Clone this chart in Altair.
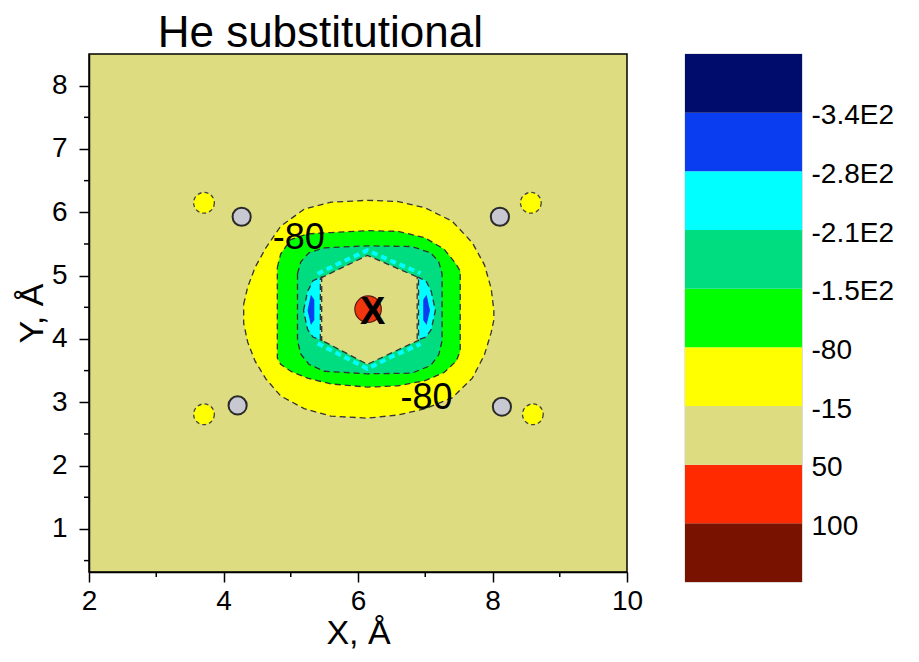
import json
import altair as alt
import pandas as pd

FONT = "Liberation Sans"

# ---------------- axes ----------------
x_domain = [2, 10]
y_domain = [0.32, 8.5]
x_major = [2, 4, 6, 8, 10]
x_minor = [3, 5, 7, 9]
y_major = [1, 2, 3, 4, 5, 6, 7, 8]
y_minor = [0.5, 1.5, 2.5, 3.5, 4.5, 5.5, 6.5, 7.5]

# ---------------- contour regions (x, upper edge, lower edge) ----------------
yellow_x = [4.30, 4.36, 4.47, 4.63, 4.85, 5.20, 5.60, 6.14, 6.60, 7.00, 7.40, 7.70, 7.88, 7.98, 8.02]
yellow_top = [4.55, 4.82, 5.13, 5.44, 5.78, 6.05, 6.16, 6.19, 6.17, 6.07, 5.86, 5.52, 5.17, 4.80, 4.45]
yellow_bot = [4.25, 3.95, 3.65, 3.37, 3.10, 2.90, 2.78, 2.75, 2.80, 2.90, 3.07, 3.38, 3.75, 4.10, 4.30]

green_x = [4.80, 4.85, 5.00, 5.25, 5.60, 6.14, 6.59, 6.99, 7.28, 7.46, 7.52]
green_top = [5.13, 5.34, 5.57, 5.66, 5.68, 5.71, 5.70, 5.60, 5.42, 5.18, 5.07]
green_bot = [3.70, 3.60, 3.49, 3.38, 3.29, 3.24, 3.26, 3.34, 3.47, 3.65, 3.81]

teal_x = [5.10, 5.15, 5.27, 5.50, 6.14, 6.80, 7.08, 7.20, 7.25]
teal_top = [5.03, 5.22, 5.36, 5.44, 5.47, 5.46, 5.36, 5.22, 5.03]
teal_bot = [3.97, 3.76, 3.60, 3.49, 3.45, 3.46, 3.58, 3.75, 3.97]

cyanL_x = [5.19, 5.25, 5.33, 5.46]
cyanL_top = [4.45, 4.75, 4.92, 4.98]
cyanL_bot = [4.45, 4.15, 4.03, 3.98]
cyanR_x = [6.88, 7.01, 7.09, 7.15]
cyanR_top = [4.98, 4.92, 4.75, 4.45]
cyanR_bot = [3.98, 4.03, 4.15, 4.45]

blueL_x = [5.25, 5.30, 5.35]
blueL_top = [4.45, 4.70, 4.62]
blueL_bot = [4.45, 4.22, 4.30]
blueR_x = [6.97, 7.02, 7.07]
blueR_top = [4.62, 4.70, 4.45]
blueR_bot = [4.30, 4.22, 4.45]

hex_x = [5.44, 6.14, 6.90]
hex_top = [4.96, 5.32, 4.97]
hex_bot = [3.99, 3.60, 3.98]

fringe_x = [5.40, 5.77, 6.14, 6.52, 6.93]
fringe_top = [5.03, 5.22, 5.40, 5.22, 5.04]
fringe_bot = [3.93, 3.73, 3.53, 3.73, 3.92]

# ---------------- atoms / markers ----------------
gray_x = [4.27, 8.11, 4.21, 8.14]
gray_y = [5.93, 5.93, 2.95, 2.93]
dot_x = [3.71, 8.57, 3.71, 8.60]
dot_y = [6.15, 6.15, 2.81, 2.81]
red_x = [6.15]
red_y = [4.47]
cross_x = [6.22]
cross_y = [4.41]

label_x = [5.12, 7.02]
label_y = [5.60, 3.07]
label_text = ["-80", "-80"]

# ---------------- colour bar ----------------
cb_colors = ["#7A1200", "#FF2A00", "#DDDC80", "#FFFF00", "#00FF00",
             "#00DC80", "#00FFFF", "#0A3CF0", "#000C6C"]  # bottom -> top
cb_labels = ["100", "50", "-15", "-80", "-1.5E2", "-2.1E2", "-2.8E2", "-3.4E2"]  # boundaries bottom -> top

W, H = 538, 518
BG = "#DDDC80"

xs = alt.Scale(domain=x_domain, nice=False, zero=False)
ys = alt.Scale(domain=y_domain, nice=False, zero=False)
x_axis = alt.Axis(values=x_major, title="X, Å", format="d", grid=False, labelFlush=False,
                  labelFontSize=28, titleFontSize=34, labelFont=FONT, titleFont=FONT,
                  titleFontWeight="normal", labelColor="black", titleColor="black",
                  tickSize=10, tickWidth=1.5, tickColor="black",
                  domainColor="black", domainWidth=1.5, labelPadding=5, titlePadding=1)
y_axis = alt.Axis(values=y_major, title="Y, Å", format="d", grid=False, labelFlush=False,
                  labelFontSize=28, titleFontSize=34, labelFont=FONT, titleFont=FONT,
                  titleFontWeight="normal", labelColor="black", titleColor="black",
                  tickSize=10, tickWidth=1.5, tickColor="black",
                  domainColor="black", domainWidth=1.5, labelPadding=12, titlePadding=2)


def X(field):
    return alt.X(field, scale=xs, axis=x_axis)


def Y(field):
    return alt.Y(field, scale=ys, axis=y_axis)


def region_df(xv, tv, bv):
    return pd.DataFrame({"x": xv, "top": tv, "bot": bv})


def area(xv, tv, bv, color):
    return alt.Chart(region_df(xv, tv, bv)).mark_area(color=color, opacity=1).encode(
        x=X("x:Q"), y=Y("top:Q"), y2="bot:Q")


def outline_df(name, xv, tv, bv):
    pts = list(zip(xv, tv)) + list(zip(xv[::-1], bv[::-1])) + [(xv[0], tv[0])]
    return pd.DataFrame({"region": name, "x": [p[0] for p in pts],
                         "y": [p[1] for p in pts], "k": list(range(len(pts)))})


outlines = pd.concat([
    outline_df("yellow", yellow_x, yellow_top, yellow_bot),
    outline_df("green", green_x, green_top, green_bot),
    outline_df("teal", teal_x, teal_top, teal_bot),
    outline_df("cyanL", cyanL_x, cyanL_top, cyanL_bot),
    outline_df("cyanR", cyanR_x, cyanR_top, cyanR_bot),
    outline_df("hex", hex_x, hex_top, hex_bot),
])

fringe_df = pd.concat([
    pd.DataFrame({"part": "top", "x": fringe_x, "y": fringe_top}),
    pd.DataFrame({"part": "bot", "x": fringe_x, "y": fringe_bot}),
])

layers = [
    area(yellow_x, yellow_top, yellow_bot, "#FFFF00"),
    area(green_x, green_top, green_bot, "#00FF00"),
    area(teal_x, teal_top, teal_bot, "#00DC80"),
    area(cyanL_x, cyanL_top, cyanL_bot, "#00FFFF"),
    area(cyanR_x, cyanR_top, cyanR_bot, "#00FFFF"),
    area(blueL_x, blueL_top, blueL_bot, "#0A3CF0"),
    area(blueR_x, blueR_top, blueR_bot, "#0A3CF0"),
    alt.Chart(fringe_df).mark_line(color="#00FFFF", strokeWidth=4, strokeDash=[6, 4]).encode(
        x=X("x:Q"), y=Y("y:Q"), detail="part:N"),
    area(hex_x, hex_top, hex_bot, BG),
    alt.Chart(outlines).mark_line(color="#333333", strokeWidth=1.3, strokeDash=[6, 4]).encode(
        x=X("x:Q"), y=Y("y:Q"), detail="region:N", order="k:Q"),
    alt.Chart(pd.DataFrame({"x": dot_x, "y": dot_y})).mark_point(
        shape="circle", filled=True, size=430, fill="#FFFF00", stroke="#444444",
        strokeWidth=1.3, strokeDash=[4, 3], opacity=1).encode(x=X("x:Q"), y=Y("y:Q")),
    alt.Chart(pd.DataFrame({"x": gray_x, "y": gray_y})).mark_point(
        shape="circle", filled=True, size=330, fill="#C8C8D2", stroke="#2A2A2A",
        strokeWidth=2, opacity=1).encode(x=X("x:Q"), y=Y("y:Q")),
    alt.Chart(pd.DataFrame({"x": red_x, "y": red_y})).mark_point(
        shape="circle", filled=True, size=700, fill="#F0360F", stroke="#5A1A10",
        strokeWidth=1.2, opacity=1).encode(x=X("x:Q"), y=Y("y:Q")),
    alt.Chart(pd.DataFrame({"x": cross_x, "y": cross_y, "t": ["X"]})).mark_text(
        fontSize=38, fontWeight="bold", font=FONT, color="black").encode(
        x=X("x:Q"), y=Y("y:Q"), text="t:N"),
    alt.Chart(pd.DataFrame({"x": label_x, "y": label_y, "t": label_text})).mark_text(
        fontSize=36, font=FONT, color="black").encode(x=X("x:Q"), y=Y("y:Q"), text="t:N"),
    alt.Chart(pd.DataFrame({"v": y_minor})).mark_rule(
        color="black", strokeWidth=1.5, clip=False).encode(
        y=Y("v:Q"), x=alt.value(0), x2=alt.value(-5)),
    alt.Chart(pd.DataFrame({"v": x_minor})).mark_rule(
        color="black", strokeWidth=1.5, clip=False).encode(
        x=X("v:Q"), y=alt.value(H), y2=alt.value(H + 5)),
]

main = alt.layer(*layers).properties(
    width=W, height=H,
    view=alt.ViewBackground(fill=BG, stroke="black", strokeWidth=1.5))

cb_df = pd.DataFrame({"lo": list(range(len(cb_colors))),
                      "hi": list(range(1, len(cb_colors) + 1)),
                      "c": cb_colors})
label_expr = json.dumps([""] + cb_labels) + "[datum.value]"
cbar = alt.Chart(cb_df).mark_rect().encode(
    y=alt.Y("lo:Q", scale=alt.Scale(domain=[0, len(cb_colors)], nice=False, zero=False),
            axis=alt.Axis(orient="right", values=list(range(1, len(cb_colors))),
                          labelExpr=label_expr, ticks=False, domain=False, grid=False,
                          labelFontSize=28, labelFont=FONT, labelColor="black",
                          labelPadding=9, labelOffset=3, title=None)),
    y2="hi:Q",
    color=alt.Color("c:N", scale=None),
).properties(width=117, height=528,
             view=alt.ViewBackground(stroke="#9A9A9A", strokeWidth=0.6))

chart = alt.hconcat(main, cbar, spacing=40).properties(
    title=alt.TitleParams("He substitutional", fontSize=44, font=FONT,
                          fontWeight="normal", color="black", anchor="start",
                          dx=143, offset=-3),
    padding={"left": 6, "top": 4, "right": 5, "bottom": 5},
).configure(font=FONT)

chart.save("out.html", embed_options={"renderer": "svg", "actions": False})
